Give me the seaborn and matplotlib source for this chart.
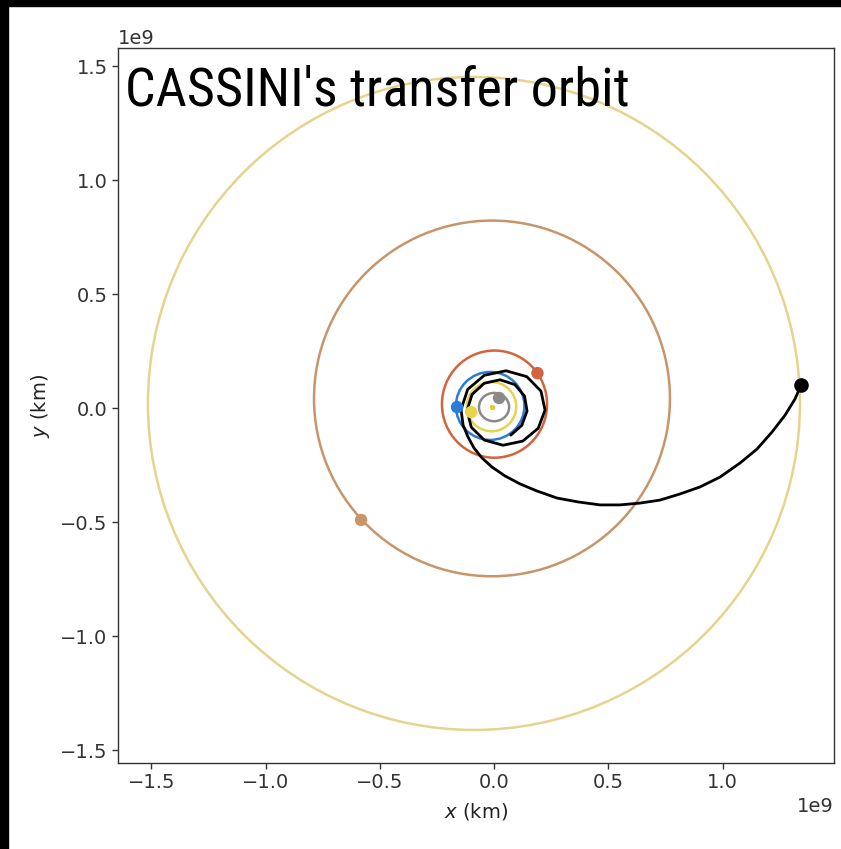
import numpy as np
import pandas as pd
import seaborn as sns
import matplotlib
matplotlib.use("Agg")
import matplotlib.pyplot as plt
from matplotlib import font_manager as fm
from matplotlib.patches import Ellipse, Rectangle

# ---------------- data (units of 1e9 km) ----------------
planets = ["Mercury", "Venus", "Earth", "Mars", "Jupiter", "Saturn"]
orbit_cx = [0.000, -0.011, -0.017, 0.002, -0.009, -0.088]
orbit_cy = [0.004, 0.006, 0.009, 0.017, 0.042, 0.020]
orbit_rx = [0.066, 0.108, 0.150, 0.230, 0.779, 1.427]
orbit_ry = [0.062, 0.108, 0.149, 0.235, 0.780, 1.432]
planet_x = [0.022, -0.100, -0.162, 0.190, -0.582]
planet_y = [0.044, -0.018, 0.004, 0.153, -0.491]
planet_colors = ["#8c8a88", "#e6d44c", "#2b7cd6", "#d3643f", "#c8956a", "#e6d48e"]

sun_x, sun_y = [-0.009], [0.004]
cassini_end_x, cassini_end_y = [1.344], [0.101]

traj_x = [0.0733, 0.1217, 0.1444, 0.1335, 0.0908, 0.0263, -0.0427, -0.0963,
          -0.1182, -0.0995, -0.0427, 0.0394, 0.1258, 0.1934, 0.2232, 0.2054,
          0.1433, 0.0525, -0.0427, -0.1155, -0.1444,
          -0.1357, -0.114, -0.088, -0.053, -0.009, 0.048, 0.114, 0.188, 0.276,
          0.368, 0.464, 0.551, 0.639, 0.726, 0.814, 0.902, 0.989, 1.077, 1.151,
          1.217, 1.274, 1.317, 1.344]
traj_y = [-0.1189, -0.0757, -0.0132, 0.0522, 0.1028, 0.1239, 0.1086, 0.0596,
          -0.0110, -0.0844, -0.1406, -0.1634, -0.1450, -0.0888, -0.0088, 0.0742,
          0.1376, 0.1634, 0.1434, 0.0816, -0.0066,
          -0.0746, -0.127, -0.175, -0.219, -0.259, -0.298, -0.333, -0.364, -0.395,
          -0.412, -0.425, -0.425, -0.417, -0.404, -0.377, -0.346, -0.303, -0.241,
          -0.180, -0.105, -0.031, 0.039, 0.101]

xticks = [-1.5, -1.0, -0.5, 0.0, 0.5, 1.0]
yticks = [-1.5, -1.0, -0.5, 0.0, 0.5, 1.0, 1.5]
title_text = "CASSINI's transfer orbit"
xlabel_text = "$x$ (km)"
ylabel_text = "$y$ (km)"

# ---------------- style ----------------
sns.set_theme(style="ticks")
plt.rcParams["font.family"] = ["DejaVu Sans"]
plt.rcParams["axes.edgecolor"] = "#333333"
plt.rcParams["xtick.color"] = "#333333"
plt.rcParams["ytick.color"] = "#333333"
plt.rcParams["axes.labelcolor"] = "#222222"


def pick_condensed():
    names = {f.name: f for f in fm.fontManager.ttflist}
    for cand in ["Roboto Condensed", "Liberation Sans Narrow", "Open Sans Condensed",
                 "Noto Sans Condensed", "DejaVu Sans Condensed"]:
        if cand in names:
            return dict(family=cand)
    for f in fm.fontManager.ttflist:
        if f.name == "DejaVu Sans" and "condensed" in str(f.stretch) and f.weight in (400, "normal"):
            return dict(fname=f.fname)
    return dict(family="DejaVu Sans")


S = 1e9
fig = plt.figure(figsize=(8.41, 8.49), dpi=100)
ax = fig.add_axes([118 / 841, 1 - 763 / 849, 716 / 841, 715 / 849])

for cx, cy, rx, ry, col in zip(orbit_cx, orbit_cy, orbit_rx, orbit_ry, planet_colors):
    ax.add_patch(Ellipse((cx * S, cy * S), 2 * rx * S, 2 * ry * S, fill=False,
                         edgecolor=col, lw=1.8, zorder=2))

traj = pd.DataFrame({"x": np.array(traj_x) * S, "y": np.array(traj_y) * S})
sns.lineplot(data=traj, x="x", y="y", sort=False, estimator=None, color="black",
             lw=2.0, ax=ax, zorder=3)

pdots = pd.DataFrame({"x": np.array(planet_x) * S, "y": np.array(planet_y) * S,
                      "name": planets[:5]})
sns.scatterplot(data=pdots, x="x", y="y", hue="name", palette=planet_colors[:5],
                s=80, edgecolor="none", legend=False, ax=ax, zorder=4)
ax.scatter(np.array(sun_x) * S, np.array(sun_y) * S, s=8, color="#f4c430", zorder=4)
ax.scatter(np.array(cassini_end_x) * S, np.array(cassini_end_y) * S, s=90,
           color="black", zorder=5)

ax.set_xlim(-1.646 * S, 1.488 * S)
ax.set_ylim(-1.557 * S, 1.579 * S)
ax.set_xticks(np.array(xticks) * S)
ax.set_yticks(np.array(yticks) * S)
ax.tick_params(labelsize=14, length=4, width=1)
ax.xaxis.get_offset_text().set_fontsize(14)
ax.yaxis.get_offset_text().set_fontsize(14)
ax.set_xlabel(xlabel_text, fontsize=14, labelpad=6)
ax.set_ylabel(ylabel_text, fontsize=14, labelpad=6)
for sp in ax.spines.values():
    sp.set_linewidth(1.0)

fp = pick_condensed()
ax.text(0.010, 0.920, title_text, transform=ax.transAxes,
        va="baseline", ha="left", color="black",
        fontproperties=fm.FontProperties(size=39, **fp), zorder=6)

# black border strips of the screenshot
fig.patches.append(Rectangle((0, 0), 8 / 841, 1, transform=fig.transFigure,
                             color="black", zorder=10))
fig.patches.append(Rectangle((0, 1 - 6 / 849), 1, 6 / 849, transform=fig.transFigure,
                             color="black", zorder=10))

fig.savefig("out.png", dpi=100)
